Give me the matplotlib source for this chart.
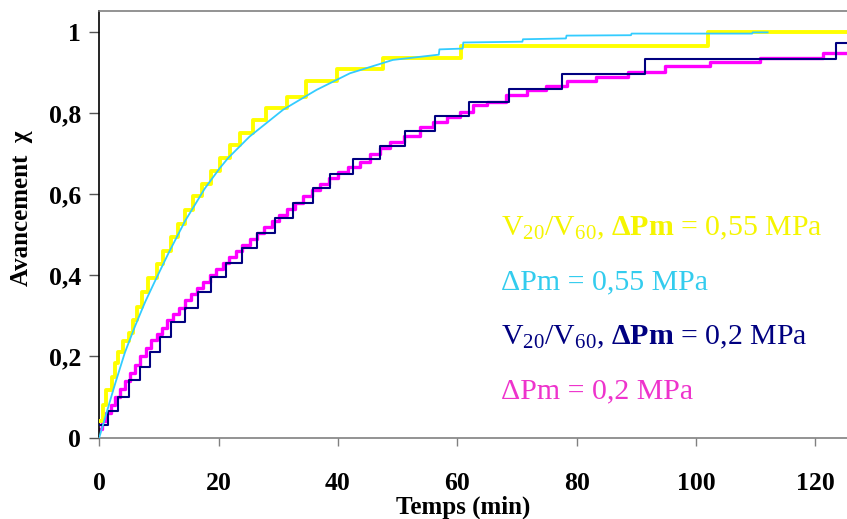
import matplotlib
matplotlib.use("Agg")
import matplotlib.pyplot as plt

plt.rcParams['font.family'] = ['Liberation Serif', 'DejaVu Serif']
plt.rcParams['mathtext.fontset'] = 'custom'
plt.rcParams['mathtext.rm'] = 'Liberation Serif'
plt.rcParams['mathtext.it'] = 'Liberation Serif:italic'
plt.rcParams['mathtext.bf'] = 'Liberation Serif:bold'

# V20/V60, dPm = 0,55 MPa (paliers)
t_jaune = [0, 0.7, 1.2, 2.1, 2.6, 3.2, 4.0, 4.9, 5.7, 6.3, 7.1, 8.2, 9.6, 10.7,
           12.1, 13.2, 14.4, 15.7, 17.2, 18.8, 20.3, 21.9, 23.6, 25.8, 28.0,
           31.4, 34.7, 39.8, 47.6, 60.7, 102.0, 125.5]
x_jaune = [0.04, 0.08, 0.117, 0.15, 0.183, 0.212, 0.237, 0.257, 0.29, 0.323,
           0.36, 0.393, 0.428, 0.461, 0.496, 0.527, 0.562, 0.595, 0.626, 0.659,
           0.689, 0.722, 0.751, 0.784, 0.813, 0.841, 0.879, 0.909, 0.937,
           0.967, 1.0, 1.0]

# dPm = 0,55 MPa
t_cyan = [0, 1.5, 2.6, 4.3, 6.0, 7.7, 9.3, 11.6, 14.4, 17.7, 20.2, 21.6, 25.2,
          30.8, 36.4, 42.0, 49.2, 56.9, 57.0, 60.9, 61.0, 70.9, 71.0, 78.2,
          78.3, 89.1, 89.2, 109.4, 109.5, 112.0]
x_cyan = [0.0, 0.075, 0.13, 0.21, 0.275, 0.335, 0.385, 0.455, 0.535, 0.615,
          0.665, 0.69, 0.743, 0.809, 0.858, 0.899, 0.932, 0.945, 0.958, 0.96,
          0.975, 0.977, 0.983, 0.985, 0.992, 0.993, 0.997, 0.997, 1.0, 1.0]

# V20/V60, dPm = 0,2 MPa (paliers)
t_bleu = [0, 1.4, 3.2, 4.9, 6.8, 8.5, 10.2, 12.1, 14.4, 16.6, 18.8, 21.3,
          23.9, 26.4, 29.4, 32.5, 35.8, 38.6, 42.5, 47.1, 51.3, 56.2, 61.9,
          68.6, 77.6, 91.5, 123.5, 125.5]
x_bleu = [0.03, 0.065, 0.10, 0.142, 0.173, 0.212, 0.249, 0.286, 0.32, 0.36,
          0.395, 0.43, 0.467, 0.506, 0.541, 0.578, 0.615, 0.65, 0.687, 0.72,
          0.757, 0.794, 0.829, 0.86, 0.897, 0.934, 0.973, 0.973]

# dPm = 0,2 MPa (paliers)
t_rose = [0, 0.5, 1.2, 2.0, 2.7, 3.5, 4.3, 5.2, 6.0, 6.9, 7.8, 8.7, 9.6, 10.5,
          11.4, 12.4, 13.4, 14.4, 15.4, 16.4, 17.4, 18.5, 19.6, 20.7, 21.8,
          22.9, 24.0, 25.2, 26.4, 27.6, 28.9, 30.2, 31.5, 32.8, 34.2, 35.6,
          37.0, 38.5, 40.0, 41.6, 43.7, 45.3, 47.0, 48.7, 51.0, 53.7, 56.0,
          58.2, 60.4, 62.6, 64.9, 68.2, 71.6, 74.9, 78.3, 83.3, 88.6, 94.8,
          102.3, 110.7, 121.3, 125.5]
x_rose = [0.02, 0.04, 0.06, 0.08, 0.10, 0.12, 0.14, 0.16, 0.18, 0.20, 0.22,
          0.24, 0.255, 0.27, 0.29, 0.305, 0.32, 0.34, 0.355, 0.37, 0.385, 0.40,
          0.415, 0.43, 0.445, 0.46, 0.475, 0.49, 0.505, 0.52, 0.535, 0.55,
          0.565, 0.58, 0.595, 0.61, 0.625, 0.64, 0.655, 0.668, 0.68, 0.70,
          0.715, 0.73, 0.745, 0.767, 0.78, 0.792, 0.804, 0.82, 0.829, 0.846,
          0.858, 0.868, 0.879, 0.889, 0.903, 0.916, 0.928, 0.936, 0.95, 0.95]

yticks = [0, 0.2, 0.4, 0.6, 0.8, 1]
ytick_labels = ['0', '0,2', '0,4', '0,6', '0,8', '1']
xticks = [0, 20, 40, 60, 80, 100, 120]

legende = [r'V$_{20}$/V$_{60}$, $\mathbf{\Delta Pm}$ = 0,55 MPa',
           'ΔPm = 0,55 MPa',
           r'V$_{20}$/V$_{60}$, $\mathbf{\Delta Pm}$ = 0,2 MPa',
           'ΔPm = 0,2 MPa']
couleurs_txt = ['#F5F500', '#33CCEE', '#000080', '#EE33CC']

fig = plt.figure(figsize=(8.47, 5.19), dpi=100)
ax = fig.add_axes([0.1172, 0.157, 0.8828, 0.822])

ax.step(t_rose, x_rose, where='post', color='#FF00FF', lw=2.4, zorder=2)
ax.step(t_bleu, x_bleu, where='post', color='#000080', lw=1.5, zorder=3)
ax.step(t_jaune, x_jaune, where='post', color='#FFFF00', lw=2.8, zorder=4)
ax.plot(t_cyan, x_cyan, color='#33CCFF', lw=1.3, zorder=5)

ax.set_xlim(0, 125.3)
ax.set_ylim(0, 1.053)
ax.set_xticks(xticks)
ax.set_yticks(yticks)
ax.set_yticklabels(ytick_labels)

for lab in ax.get_xticklabels() + ax.get_yticklabels():
    lab.set_fontweight('bold')
    lab.set_fontsize(18.5)
ax.tick_params(axis='y', direction='out', length=7, width=1, pad=6, colors='#555555', labelcolor='black')
ax.tick_params(axis='x', direction='out', length=6, width=1, pad=19, colors='#808080', labelcolor='black')

ax.spines['right'].set_visible(False)
ax.spines['top'].set_color('#808080')
ax.spines['bottom'].set_color('#808080')
ax.spines['left'].set_color('black')
for s in ['top', 'bottom', 'left']:
    ax.spines[s].set_linewidth(1.2)

ax.set_xlabel('Temps (min)', fontsize=18, fontweight='bold')
ax.xaxis.set_label_coords(0.487, -0.137)
ax.set_ylabel('Avancement  χ', fontsize=18, fontweight='bold')
ax.yaxis.set_label_coords(-0.088, 0.538)

y_txt = [0.517, 0.384, 0.248, 0.115]
for txt, c, y in zip(legende, couleurs_txt, y_txt):
    ax.text(67.3, y, txt, color=c, fontsize=21.5, va='center', ha='left')

fig.savefig('out.png', dpi=100)
